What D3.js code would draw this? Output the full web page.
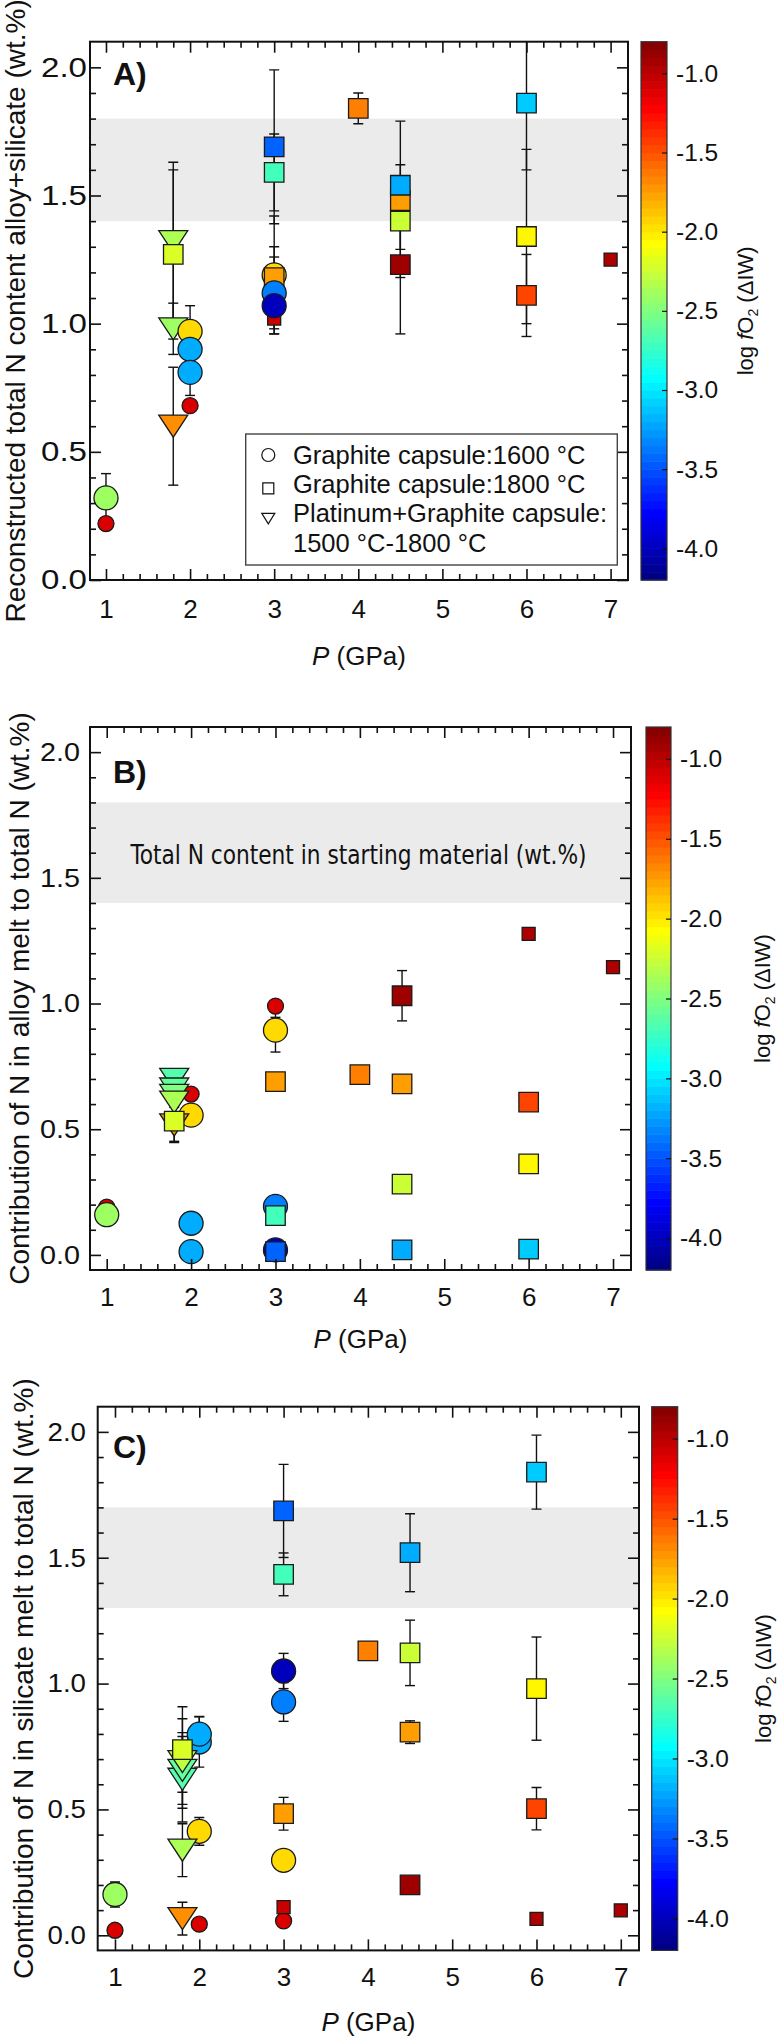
<!DOCTYPE html>
<html><head><meta charset="utf-8">
<script src="https://cdn.jsdelivr.net/npm/d3@7"></script>
<style>
body{margin:0;background:#fff}
svg{display:block}
text{font-family:"Liberation Sans",Arial,Helvetica,sans-serif;fill:#111}
</style>
</head><body>
<svg id="c" width="780" height="2040"></svg>
<script>
// ---------------- data ----------------
const X_TICKS = [1, 2, 3, 4, 5, 6, 7];
const Y_TICKS = [0, 0.5, 1.0, 1.5, 2.0];
const CB_TICKS = [-4.0, -3.5, -3.0, -2.5, -2.0, -1.5, -1.0];
const FO2_RANGE = [-4.2, -0.8];
const BAND_A = [1.4, 1.8], BAND_B = [1.4, 1.8], BAND_C = [1.3, 1.7];
const LEGEND_LABELS = ["Graphite capsule:1600 \u00B0C", "Graphite capsule:1800 \u00B0C", "Platinum+Graphite capsule:", "1500 \u00B0C-1800 \u00B0C"];
const LEGEND_CAPSULES = ["C", "S", "T"];
// capsule: C = graphite 1600 °C (circle), S = graphite 1800 °C (square), T = Pt+graphite (triangle)

// Panel A: reconstructed total N (alloy + silicate)
const pressureA = [1,1,1.8,1.8,1.8,1.8,2,2,2,2,3,3,3,3,3,3,3,3,4,4.5,4.5,4.5,4.5,6,6,6,6,7];
const nitrogenA = [0.22,0.32,0.60,0.98,1.32,1.27,0.68,0.97,0.90,0.81,1.02,1.06,1.19,1.18,1.12,1.07,1.59,1.69,1.84,1.23,1.48,1.54,1.40,1.35,1.34,1.11,1.86,1.25];
const fo2A      = [-1.10,-2.40,-1.70,-2.40,-2.35,-2.20,-1.10,-1.95,-3.20,-3.20,-1.05,-1.10,-1.95,-1.75,-3.35,-4.00,-2.70,-3.45,-1.65,-0.90,-1.75,-3.20,-2.25,-0.95,-2.05,-1.45,-3.10,-0.95];
const capsuleA  = ["C","C","T","T","T","S","C","C","C","C","S","C","C","S","C","C","S","S","S","S","S","S","S","S","S","S","S","S"];
const errA      = [0,0.095,0.23,0.10,0.31,0.33,0,0.10,0,0.09,0,0,0.23,0.12,0.14,0.11,0.15,0.30,0.06,0.27,0.05,0.25,0.22,0,0.34,0.16,0.26,0];
const smallA    = [1,0,0,0,0,0,1,0,0,0,1,1,0,0,0,0,0,0,0,0,0,0,0,1,0,0,0,1];

// Panel B: N in alloy melt
const pressureB = [1,1,2,2,2,2,1.8,1.8,1.8,1.8,1.8,1.8,3,3,3,3,3,3,3,3,4,4.5,4.5,4.5,4.5,6,6,6,6,7];
const nitrogenB = [0.19,0.16,0.64,0.556,0.126,0.013,0.517,0.698,0.66,0.635,0.608,0.532,0.905,0.99,0.894,0.689,0.193,0.156,0.02,0.013,0.717,1.031,0.68,0.282,0.02,1.277,0.608,0.362,0.023,1.145];
const fo2B      = [-1.10,-2.40,-1.10,-1.95,-3.20,-3.20,-1.70,-2.65,-2.60,-2.50,-2.35,-2.20,-1.05,-1.10,-1.95,-1.75,-3.35,-2.70,-4.00,-3.45,-1.65,-0.90,-1.75,-2.25,-3.20,-0.95,-1.45,-2.05,-3.10,-0.95];
const capsuleB  = ["C","C","C","C","C","C","T","T","T","T","T","S","S","C","C","S","C","S","C","S","S","S","S","S","S","S","S","S","S","S"];
const errB      = [0,0,0,0,0,0,0.07,0,0,0,0,0.08,0.04,0,0.087,0,0,0,0,0,0,0.10,0,0,0,0,0,0,0,0];
const smallB    = [1,0,1,0,0,0,0,0,0,0,0,0,1,1,0,0,0,0,0,0,0,0,0,0,0,1,0,0,0,1];

// Panel C: N in silicate melt
const pressureC = [1,1,2,2,2,2,1.8,1.8,1.8,1.8,1.8,1.8,3,3,3,3,3,3,3,3,4,4.5,4.5,4.5,4.5,6,6,6,6,7];
const nitrogenC = [0.02,0.162,0.044,0.413,0.768,0.799,0.066,0.338,0.62,0.655,0.69,0.738,0.057,0.112,0.298,0.483,0.927,1.05,1.434,1.686,1.13,0.20,0.807,1.122,1.52,0.065,0.503,0.98,1.84,0.099];
const fo2C      = [-1.10,-2.40,-1.10,-1.95,-3.20,-3.20,-1.70,-2.35,-2.65,-2.60,-2.30,-2.20,-1.10,-1.05,-1.95,-1.75,-3.35,-4.00,-2.70,-3.45,-1.65,-0.90,-1.75,-2.25,-3.20,-0.95,-1.45,-2.05,-3.10,-0.95];
const capsuleC  = ["C","C","C","C","C","C","T","T","T","T","T","S","C","S","C","S","C","C","S","S","S","S","S","S","S","S","S","S","S","S"];
const errC      = [0,0.05,0,0.055,0.10,0.07,0.065,0.105,0.17,0.15,0.17,0.17,0,0,0,0.065,0.077,0.07,0.085,0.185,0,0,0.045,0.13,0.155,0,0.084,0.205,0.147,0];
const smallC    = [1,0,1,0,0,0,0,0,0,0,0,0,1,1,0,0,0,0,0,0,0,0,0,0,0,1,0,0,0,1];

// ---------------- drawing ----------------
const svg = d3.select("#c");
const FONT = '"Liberation Sans",Arial,Helvetica,sans-serif';
const jetT = d3.scaleLinear().domain(FO2_RANGE).range([0, 1]).clamp(true);
function jet(v) {
  const t = jetT(v), c = q => Math.max(0, Math.min(1, q));
  return d3.rgb(255 * c(1.5 - Math.abs(4 * t - 3)), 255 * c(1.5 - Math.abs(4 * t - 2)), 255 * c(1.5 - Math.abs(4 * t - 1))).formatHex();
}

function markerPath(shape, small) {
  if (shape === "C") { const r = small ? 8 : 12; return `M${-r},0A${r},${r} 0 1,0 ${r},0A${r},${r} 0 1,0 ${-r},0Z`; }
  if (shape === "S") { const h = small ? 6.5 : 9.75; return `M${-h},${-h}H${h}V${h}H${-h}Z`; }
  const w = 14.5, hh = 11; return `M${-w},${-hh}H${w}L0,${hh}Z`;
}

const panels = [
  { name: "A", P: pressureA, N: nitrogenA, F: fo2A, K: capsuleA, E: errA, S: smallA, band: BAND_A,
    top: 41.7, bottom: 580, left: 90, right: 628, xDom: [0.81, 7.207], yDom: [0, 2.1],
    cbX: 641, cbW: 26, yGap: 3, yFont: 27.5, yLen: 46, yTitleX: 25, cbLblX: 676, cbTitleX: 753, xLblOff: 38, xTitleOff: 85, letterY: 85,
    yTitle: "Reconstructed total N content alloy+silicate (wt.%)" },
  { name: "B", P: pressureB, N: nitrogenB, F: fo2B, K: capsuleB, E: errB, S: smallB, band: BAND_B,
    top: 727, bottom: 1270, left: 90, right: 631, xDom: [0.802, 7.213], yDom: [-0.06, 2.1],
    cbX: 646, cbW: 25, yGap: 10, yFont: 26, yLen: 40, yTitleX: 29, cbLblX: 680, cbTitleX: 770, xLblOff: 36, xTitleOff: 78, letterY: 783,
    yTitle: "Contribution of N in alloy melt to total N (wt.%)",
    bandText: "Total N content in starting material (wt.%)" },
  { name: "C", P: pressureC, N: nitrogenC, F: fo2C, K: capsuleC, E: errC, S: smallC, band: BAND_C,
    top: 1406.7, bottom: 1950.4, left: 97.7, right: 639, xDom: [0.795, 7.216], yDom: [-0.06, 2.1],
    cbX: 651.7, cbW: 26, yGap: 11.7, yFont: 26, yLen: 38.5, yTitleX: 33, cbLblX: 686.7, cbTitleX: 771, xLblOff: 36, xTitleOff: 81, letterY: 1458,
    yTitle: "Contribution of N in silicate melt to total N (wt.%)" }
];

panels.forEach(cfg => {
  const g = svg.append("g");
  const x = d3.scaleLinear().domain(cfg.xDom).range([cfg.left, cfg.right]);
  const y = d3.scaleLinear().domain(cfg.yDom).range([cfg.bottom, cfg.top]);

  // grey band
  g.append("rect").attr("x", cfg.left).attr("width", cfg.right - cfg.left)
    .attr("y", y(cfg.band[1])).attr("height", y(cfg.band[0]) - y(cfg.band[1])).attr("fill", "#ebebeb");
  if (cfg.bandText) {
    g.append("text").attr("x", (cfg.left + cfg.right) / 2 - 2).attr("y", y((cfg.band[0] + cfg.band[1]) / 2) + 11)
      .attr("text-anchor", "middle").attr("font-size", 26)
      .style("font-family", '"Liberation Sans Narrow","DejaVu Sans Condensed",Arial,sans-serif')
      .attr("textLength", 456).attr("lengthAdjust", "spacingAndGlyphs").text(cfg.bandText);
  }

  // clip
  const cid = "clip" + cfg.name;
  svg.append("clipPath").attr("id", cid).append("rect")
    .attr("x", cfg.left).attr("y", cfg.top).attr("width", cfg.right - cfg.left).attr("height", cfg.bottom - cfg.top);

  const idx = d3.range(cfg.P.length);

  // error bars
  const eg = g.append("g").attr("clip-path", `url(#${cid})`).attr("stroke", "#111").attr("stroke-width", 1.4);
  idx.filter(i => cfg.E[i] > 0).forEach(i => {
    const cx = x(cfg.P[i]), y1 = y(cfg.N[i] - cfg.E[i]), y2 = y(cfg.N[i] + cfg.E[i]);
    eg.append("line").attr("x1", cx).attr("x2", cx).attr("y1", y1).attr("y2", y2);
    eg.append("line").attr("x1", cx - 5).attr("x2", cx + 5).attr("y1", y1).attr("y2", y1);
    eg.append("line").attr("x1", cx - 5).attr("x2", cx + 5).attr("y1", y2).attr("y2", y2);
  });

  // markers
  g.append("g").selectAll("path").data(idx).join("path")
    .attr("transform", i => `translate(${x(cfg.P[i])},${y(cfg.N[i])})`)
    .attr("d", i => markerPath(cfg.K[i], cfg.S[i] === 1))
    .attr("fill", i => jet(cfg.F[i]))
    .attr("stroke", "#1a1a1a").attr("stroke-width", 1.3);

  // axes
  const near = (v, arr) => arr.some(a => Math.abs(a - v) < 1e-6);
  const xMinor = d3.range(4, 37).map(i => i / 5).filter(v => !near(v, X_TICKS) && x(v) > cfg.left + 3 && x(v) < cfg.right - 3);
  const yMinor = d3.range(-1, 22).map(i => i / 10).filter(v => !near(v, Y_TICKS) && y(v) < cfg.bottom - 2 && y(v) > cfg.top + 2);
  const yMaj = Y_TICKS.filter(v => v >= cfg.yDom[0] && v <= cfg.yDom[1]);

  const styleAxis = sel => { sel.select(".domain").remove(); sel.selectAll("line").attr("stroke", "#111").attr("stroke-width", 1.6); };

  g.append("g").attr("transform", `translate(${cfg.left},0)`)
    .call(d3.axisLeft(y).tickValues(yMaj).tickSize(-11).tickPadding(cfg.yGap).tickFormat(d => d.toFixed(1)))
    .call(styleAxis).attr("font-size", cfg.yFont).attr("font-family", FONT)
    .selectAll("text").attr("fill", "#111").attr("textLength", cfg.yLen).attr("lengthAdjust", "spacingAndGlyphs");
  g.append("g").attr("transform", `translate(${cfg.left},0)`)
    .call(d3.axisLeft(y).tickValues(yMinor).tickSize(-6).tickFormat("")).call(styleAxis);
  g.append("g").attr("transform", `translate(${cfg.right},0)`)
    .call(d3.axisRight(y).tickValues(yMaj).tickSize(-11).tickFormat("")).call(styleAxis);
  g.append("g").attr("transform", `translate(${cfg.right},0)`)
    .call(d3.axisRight(y).tickValues(yMinor).tickSize(-6).tickFormat("")).call(styleAxis);
  g.append("g").attr("transform", `translate(0,${cfg.top})`)
    .call(d3.axisTop(x).tickValues(X_TICKS).tickSize(-11).tickFormat("")).call(styleAxis);
  g.append("g").attr("transform", `translate(0,${cfg.top})`)
    .call(d3.axisTop(x).tickValues(xMinor).tickSize(-6).tickFormat("")).call(styleAxis);
  const bx = g.append("g").attr("transform", `translate(0,${cfg.bottom})`)
    .call(d3.axisBottom(x).tickValues(X_TICKS).tickSize(-11).tickFormat(d3.format("d")))
    .call(styleAxis).attr("font-size", 26).attr("font-family", FONT);
  bx.selectAll("text").attr("y", cfg.xLblOff).attr("dy", null).attr("fill", "#111");
  g.append("g").attr("transform", `translate(0,${cfg.bottom})`)
    .call(d3.axisBottom(x).tickValues(xMinor).tickSize(-6).tickFormat("")).call(styleAxis);

  // frame
  g.append("rect").attr("x", cfg.left).attr("y", cfg.top).attr("width", cfg.right - cfg.left)
    .attr("height", cfg.bottom - cfg.top).attr("fill", "none").attr("stroke", "#111").attr("stroke-width", 2);

  // axis titles
  const xt = g.append("text").attr("x", (cfg.left + cfg.right) / 2).attr("y", cfg.bottom + cfg.xTitleOff)
    .attr("text-anchor", "middle").attr("font-size", 26);
  xt.append("tspan").attr("font-style", "italic").text("P");
  xt.append("tspan").text(" (GPa)");
  g.append("text").attr("transform", `translate(${cfg.yTitleX},${(cfg.top + cfg.bottom) / 2}) rotate(-90)`)
    .attr("text-anchor", "middle").attr("font-size", 28).text(cfg.yTitle);

  // panel letter
  g.append("text").attr("x", 113).attr("y", cfg.letterY).attr("font-size", 32).attr("font-weight", "bold").text(cfg.name + ")");

  // colour bar
  const cy = d3.scaleLinear().domain(FO2_RANGE).range([cfg.bottom, cfg.top]);
  const steps = d3.range(0, 68);
  const stepV = (FO2_RANGE[1] - FO2_RANGE[0]) / steps.length;
  g.append("g").selectAll("rect").data(steps).join("rect")
    .attr("x", cfg.cbX).attr("width", cfg.cbW)
    .attr("y", s => cy(FO2_RANGE[0] + (s + 1) * stepV))
    .attr("height", s => cy(FO2_RANGE[0] + s * stepV) - cy(FO2_RANGE[0] + (s + 1) * stepV) + 0.6)
    .attr("fill", s => jet(FO2_RANGE[0] + (s + 0.5) * stepV));
  g.append("rect").attr("x", cfg.cbX).attr("y", cfg.top).attr("width", cfg.cbW).attr("height", cfg.bottom - cfg.top)
    .attr("fill", "none").attr("stroke", "#333").attr("stroke-width", 1.2);
  const cbAxis = g.append("g").attr("transform", `translate(${cfg.cbX + cfg.cbW},0)`)
    .call(d3.axisRight(cy).tickValues(CB_TICKS).tickSize(-5).tickPadding(0).tickFormat(d => d.toFixed(1)))
    .call(styleAxis).attr("font-size", 24.5).attr("font-family", FONT);
  cbAxis.selectAll("line").attr("stroke-width", 1.2);
  cbAxis.selectAll("text").attr("x", cfg.cbLblX - cfg.cbX - cfg.cbW).attr("fill", "#111");
  const ct = g.append("text").attr("transform", `translate(${cfg.cbTitleX},${(cfg.top + cfg.bottom) / 2}) rotate(-90)`)
    .attr("text-anchor", "middle").attr("font-size", 22);
  ct.append("tspan").text("log ");
  ct.append("tspan").attr("font-style", "italic").text("f");
  ct.append("tspan").text("O");
  ct.append("tspan").attr("font-size", 14).attr("dy", 5).text("2");
  ct.append("tspan").attr("dy", -5).text(" (\u0394IW)");

  // legend (panel A only)
  if (cfg.name === "A") {
    const lg = g.append("g");
    lg.append("rect").attr("x", 245.7).attr("y", 434).attr("width", 371.6).attr("height", 131)
      .attr("fill", "#fff").attr("stroke", "#444").attr("stroke-width", 1.4);
    const base = [463.5, 492.8, 522, 551.5];
    const sym = [455, 488.3, 518.3];
    LEGEND_CAPSULES.forEach((k, i) => {
      let d;
      if (k === "C") d = "M-6.5,0A6.5,6.5 0 1,0 6.5,0A6.5,6.5 0 1,0 -6.5,0Z";
      else if (k === "S") d = "M-5.5,-5.5H5.5V5.5H-5.5Z";
      else d = "M-6.5,-5H6.5L0,5.5Z";
      lg.append("path").attr("transform", `translate(268.3,${sym[i]})`).attr("d", d)
        .attr("fill", "#fff").attr("stroke", "#111").attr("stroke-width", 1.2);
    });
    LEGEND_LABELS.forEach((t, i) => {
      lg.append("text").attr("x", 293).attr("y", base[i]).attr("font-size", 25.5).text(t);
    });
  }
});
</script>
</body></html>
